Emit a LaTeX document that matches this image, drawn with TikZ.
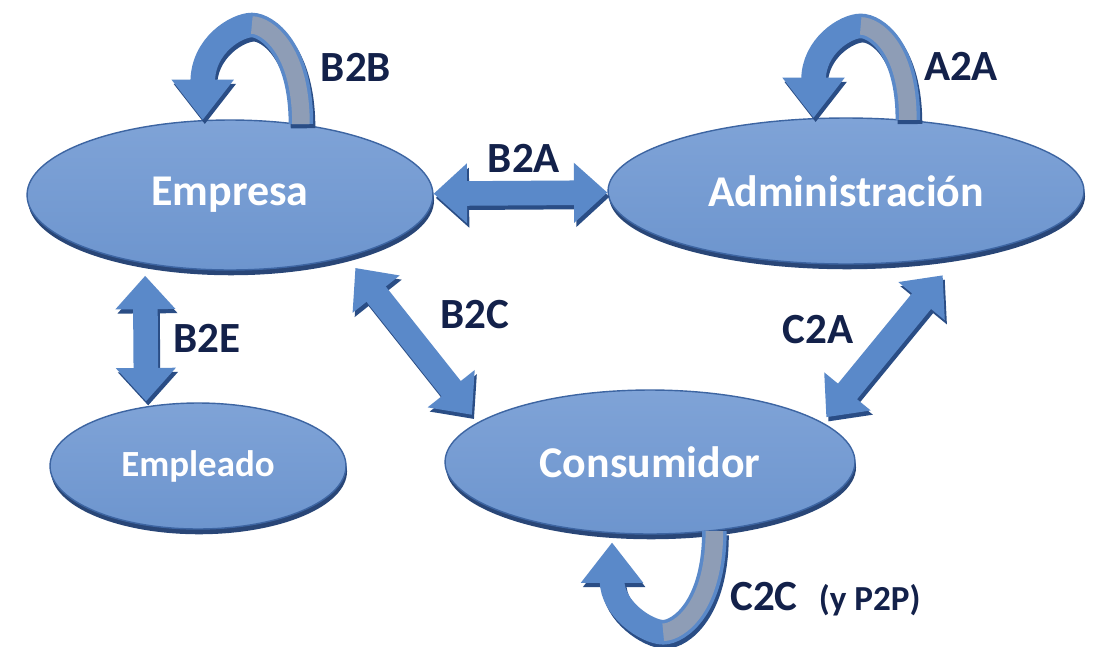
\documentclass[tikz,border=0pt]{standalone}
\usepackage{fontspec}
\setmainfont{Carlito}
\usetikzlibrary{shapes.geometric,arrows.meta,shadows,calc}

\definecolor{ovaltop}{HTML}{7FA3D7}
\definecolor{ovalmid}{HTML}{527FC1}
\definecolor{ovalbot}{HTML}{6D95CE}
\definecolor{ovaledge}{HTML}{3D65A2}
\definecolor{ovalshade}{HTML}{1E3D70}
\definecolor{arrowblue}{HTML}{5A89C9}
\definecolor{arrowdark}{HTML}{2A4D85}
\definecolor{arrowgrey}{HTML}{8E9DB6}
\definecolor{labelnavy}{HTML}{13214A}

\tikzset{
  oval/.style={ellipse, draw=ovaledge, line width=0.8pt, inner sep=0pt,
    top color=ovaltop, middle color=ovalmid, bottom color=ovalbot,
    drop shadow={shadow xshift=0.6pt, shadow yshift=-3pt, fill=ovalshade, opacity=0.95},
    text=white, font=\bfseries\fontsize{25}{30}\selectfont},
  tag/.style={text=labelnavy, inner sep=0pt, font=\bfseries\fontsize{24.5}{28}\selectfont},
  twoway/.style={line width=14pt, {Triangle[width=33pt,length=19pt]}-{Triangle[width=33pt,length=19pt]}},
  oneway/.style={line width=14pt, -{Triangle[width=34pt,length=23pt]}},
}

\begin{document}
\begin{tikzpicture}[x=0.02cm, y=0.02cm]
  \fill[white] (0,0) rectangle (1114,-646);
  \useasboundingbox (0,0) rectangle (1114,-646);

  % the four actors
  \node[oval, minimum width=8.12cm, minimum height=3cm] (empresa) at (230,-195) {Empresa};
  \node[oval, minimum width=9.52cm, minimum height=2.92cm] (admin) at (846,-191) {Administración};
  \node[oval, minimum width=5.92cm, minimum height=2.52cm,
    font=\bfseries\fontsize{21}{25}\selectfont] (empleado) at (198,-466) {Empleado};
  \node[oval, minimum width=8.2cm, minimum height=2.88cm] (consumidor) at (650,-462) {Consumidor};

  % block arrows, dark copy first as a shadow
  \foreach \tint/\sx/\sy in {arrowdark/1.2pt/-2.4pt, arrowblue/0pt/0pt} {
    \begin{scope}[transform canvas={xshift=\sx, yshift=\sy}, color=\tint]
      \draw[twoway] (empresa) -- (admin);
      \draw[twoway, shorten <=0.24cm, shorten >=0.1cm] (empresa.219) -- (empleado.131);
      \draw[twoway, shorten <=0.28cm, shorten >=0.19cm] (empresa.332) -- (consumidor.167);
      \draw[twoway, shorten <=0.5cm, shorten >=0.13cm] (admin.330) -- (consumidor.13);
      % self loops
      \draw[oneway] (empresa.45) .. controls +(0,75) and +(15,0) .. ($(empresa.45)!0.5!(empresa.110)+(0,97)$)
        .. controls +(-15,0) and +(0,75) .. (empresa.110);
      \draw[oneway] (admin.49) .. controls +(0,72) and +(15,0) .. ($(admin.49)!0.5!(admin.114)+(0,93)$)
        .. controls +(-15,0) and +(0,72) .. (admin.114);
      \draw[oneway, shorten >=0.18cm] (consumidor.313) .. controls +(0,-76) and +(16,0) .. ($(consumidor.313)!0.5!(consumidor.242)+(0,-100)$)
        .. controls +(-16,0) and +(0,-76) .. (consumidor.242);
    \end{scope}
  }

  % back side of the loops
  \draw[arrowgrey, line width=10pt] (empresa.45) .. controls +(0,75) and +(15,0) .. ($(empresa.45)!0.5!(empresa.110)+(0,97)$);
  \draw[arrowgrey, line width=10pt] (admin.49) .. controls +(0,72) and +(15,0) .. ($(admin.49)!0.5!(admin.114)+(0,93)$);
  \draw[arrowgrey, line width=10pt] (consumidor.313) .. controls +(0,-76) and +(16,0) .. ($(consumidor.313)!0.5!(consumidor.242)+(0,-100)$);

  % labels
  \node[tag] (b2b) at (356,-67) {B2B};
  \node[tag] (a2a) at (961,-66) {A2A};
  \node[tag] (b2a) at (524,-158) {B2A};
  \node[tag] (b2e) at (207,-338) {B2E};
  \node[tag] (b2c) at (475,-315) {B2C};
  \node[tag] (c2a) at (818,-330) {C2A};
  \node[tag, anchor=base west] (c2c) at (730,-610) {C2C\hspace{12pt}{\fontsize{20}{24}\selectfont(y P2P)}};
\end{tikzpicture}
\end{document}
